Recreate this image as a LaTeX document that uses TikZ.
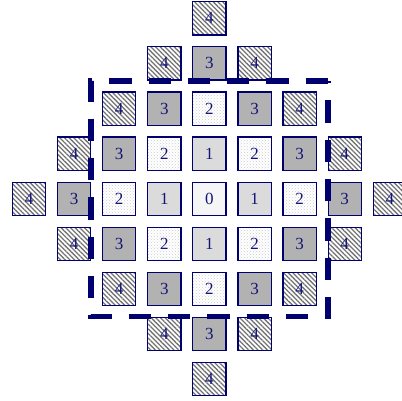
\documentclass[tikz,border=0pt]{standalone}
\usepackage{fontspec}
\setmainfont{Liberation Serif}
\usetikzlibrary{patterns,patterns.meta}
\definecolor{navyc}{RGB}{0,0,110}
\definecolor{textc}{RGB}{20,20,120}
\begin{document}
\begin{tikzpicture}[x=1pt,y=1pt,
  cell/.style={draw=navyc,line width=1.2pt,minimum size=33.2pt,inner sep=0pt,
    text=textc,font=\fontsize{17}{17}\selectfont},
  v0/.style={fill=black!4},
  v1/.style={fill=black!14},
  v2/.style={pattern=crosshatch dots,pattern color=black!20},
  v3/.style={fill=black!30},
  v4/.style={pattern={Lines[angle=-45,distance=3.3pt,line width=1.3pt]},pattern color=black!55},
  bigdash/.style={draw=navyc,line width=5.5pt,dash pattern=on 22.3pt off 17pt}]
\useasboundingbox (0,0) rectangle (402,-400);
\foreach \i in {-4,...,4}{
  \foreach \j in {-4,...,4}{
    \pgfmathtruncatemacro\d{abs(\i)+abs(\j)}
    \ifnum\d<5
      \node[cell,v\d] (c\i\j) at ({209.4+45.1*\i},{-198.7-45.1*\j}) {\d};
    \fi
  }
}
\coordinate (tr) at (328,-80.8);
\coordinate (tl) at (90.8,-80.8);
\coordinate (bl) at (90.8,-316.5);
\coordinate (br) at (328,-316.5);
\draw[bigdash] (tr) -- (tl) -- (bl) -- (br) -- cycle;
\end{tikzpicture}
\end{document}
